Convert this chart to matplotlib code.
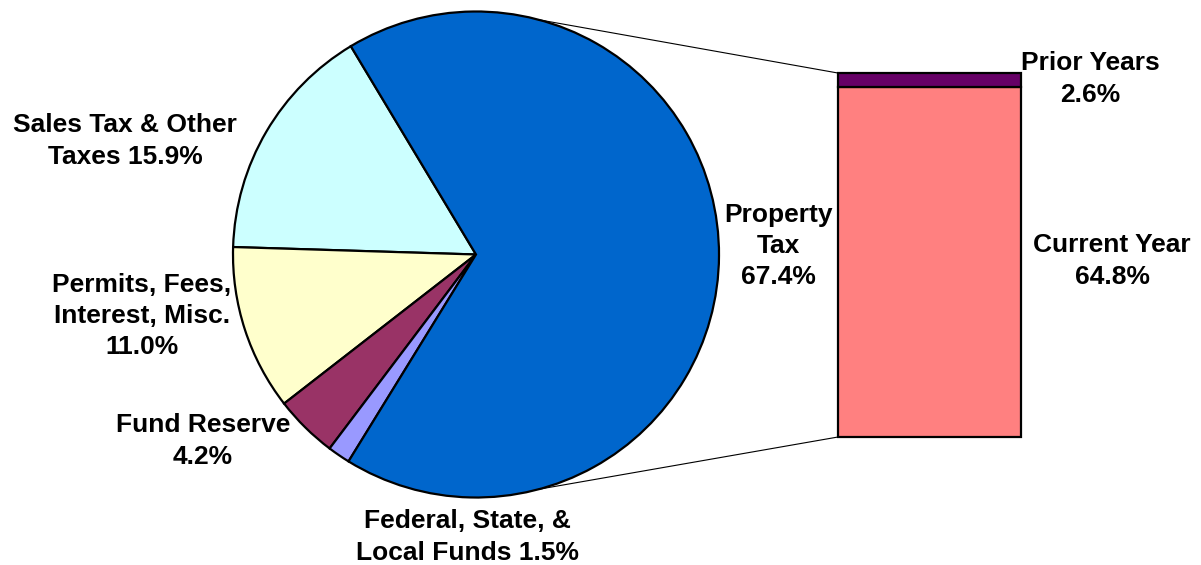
import numpy as np
import matplotlib.pyplot as plt

plt.rcParams["font.family"] = ["Liberation Sans", "DejaVu Sans"]

# Pie slices (counterclockwise from the upper edge of Property Tax)
pie_labels = ["Sales Tax & Other\nTaxes 15.9%", "Permits, Fees,\nInterest, Misc.\n11.0%",
              "Fund Reserve\n4.2%", "Federal, State, &\nLocal Funds 1.5%", "Property\nTax\n67.4%"]
pie_values = [15.9, 11.0, 4.2, 1.5, 67.4]
pie_colors = ["#CCFFFF", "#FFFFCC", "#993366", "#9999FF", "#0066CC"]

# Breakdown of Property Tax
bar_labels = ["Current Year\n64.8%", "Prior Years\n2.6%"]
bar_values = [64.8, 2.6]
bar_colors = ["#FF8080", "#660066"]

H = 565
fig = plt.figure(figsize=(12.01, 5.65), dpi=100)
ax = fig.add_axes([0, 0, 1, 1])

# Pie
cx, cy, r = 476, H - 254.5, 243
start = 121
ax.pie(pie_values, colors=pie_colors, startangle=start, counterclock=True,
       center=(cx, cy), radius=r, frame=True,
       wedgeprops=dict(edgecolor="black", linewidth=1.6))
ax.set_xlim(0, 1201)
ax.set_ylim(0, H)
ax.set_aspect("equal")
ax.axis("off")

# Stacked bar for Property Tax
scale = 5.4  # pixels per percent
bar_x, bar_w = 929.5, 183
bottom = H - 437
for v, c in zip(bar_values, bar_colors):
    ax.bar(bar_x, v * scale, width=bar_w, bottom=bottom, color=c,
           edgecolor="black", linewidth=1.6)
    bottom += v * scale
bar_top = bottom

# Connector lines from the pie to the bar
ang = np.deg2rad(75)
ax.plot([cx + r * np.cos(ang), bar_x - bar_w / 2], [cy + r * np.sin(ang), bar_top],
        color="black", linewidth=0.8)
ax.plot([cx + r * np.cos(-ang), bar_x - bar_w / 2], [cy + r * np.sin(-ang), H - 437],
        color="black", linewidth=0.8)

# Labels
txt = dict(fontsize=19, fontweight="bold", ha="center", va="center", linespacing=1.38)
pie_label_pos = [(125, 141), (142, 316), (203, 441), (467, 537), (778, 246)]
for lab, (x, y) in zip(pie_labels, pie_label_pos):
    ax.text(x, H - y, lab, **txt)
bar_label_pos = [(1112, 261), (1090, 79)]
for lab, (x, y) in zip(bar_labels, bar_label_pos):
    ax.text(x, H - y, lab, **txt)

fig.savefig("out.png", dpi=100)
